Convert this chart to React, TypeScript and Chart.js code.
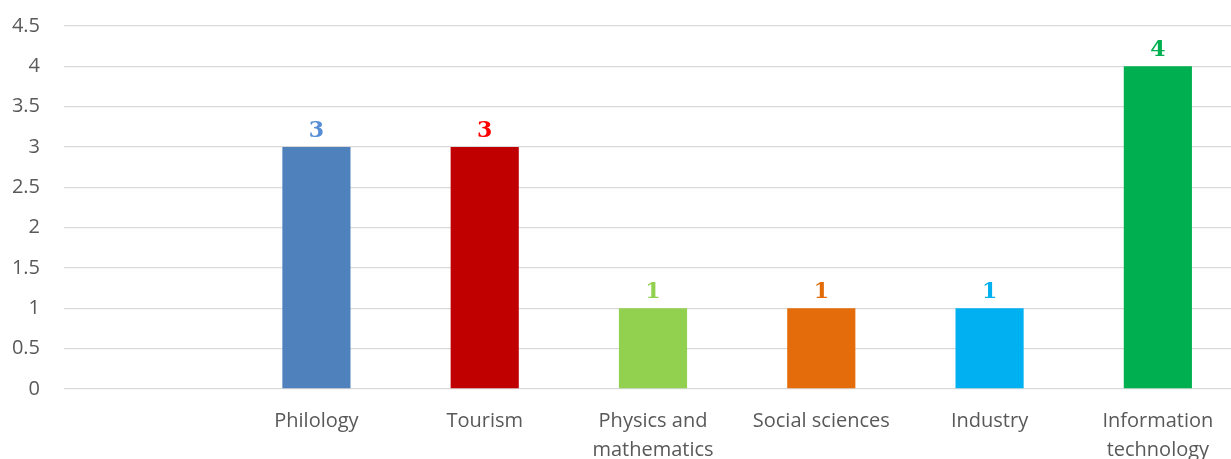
import React, { useEffect, useRef } from "react";
import { Chart, registerables } from "chart.js";

Chart.register(...registerables);

const categories: (string | string[])[] = [
  "",
  "Philology",
  "Tourism",
  ["Physics and", "mathematics"],
  "Social sciences",
  "Industry",
  ["Information", "technology"],
];
const values: (number | null)[] = [null, 3, 3, 1, 1, 1, 4];
const barColors = ["#ffffff", "#4f81bd", "#c00000", "#92d050", "#e46c0a", "#00b0f0", "#00b050"];
const labelColors = ["#ffffff", "#558ed5", "#ff0000", "#92d050", "#e36c09", "#00b0f0", "#00b050"];
const yTicks = { min: 0, max: 4.5, step: 0.5 };

const CANVAS_W = 1242;
const CANVAS_H = 480;
const AREA_LEFT = 64;
const AREA_BOTTOM = 389;

const valueLabels = {
  id: "valueLabels",
  afterDatasetsDraw(chart: any) {
    const ctx = chart.ctx;
    const meta = chart.getDatasetMeta(0);
    ctx.save();
    ctx.font = "bold 22px 'DejaVu Serif', serif";
    ctx.textAlign = "center";
    ctx.textBaseline = "alphabetic";
    meta.data.forEach((bar: any, i: number) => {
      const v = values[i];
      if (v == null) return;
      ctx.fillStyle = labelColors[i];
      ctx.fillText(String(v), bar.x, bar.y - 10);
    });
    ctx.restore();
  },
};

export default function App() {
  const ref = useRef<HTMLCanvasElement | null>(null);
  useEffect(() => {
    if (!ref.current) return;
    const chart = new Chart(ref.current, {
      type: "bar",
      data: {
        labels: categories,
        datasets: [
          {
            data: values,
            backgroundColor: barColors,
            borderWidth: 0,
            categoryPercentage: 0.405,
            barPercentage: 1,
          },
        ],
      },
      options: {
        responsive: false,
        animation: false,
        layout: { padding: { top: 26, right: 0, left: 0, bottom: 0 } },
        plugins: { legend: { display: false }, tooltip: { enabled: false } },
        scales: {
          x: {
            grid: { display: false },
            border: { display: false },
            ticks: {
              color: "#595959",
              font: { family: "'Open Sans', sans-serif", size: 20, lineHeight: 1.45 },
              padding: 10,
              maxRotation: 0,
              autoSkip: false,
            },
            afterFit: (scale: any) => {
              scale.height = CANVAS_H - AREA_BOTTOM;
              scale.paddingLeft = 0;
              scale.paddingRight = 0;
            },
          },
          y: {
            min: yTicks.min,
            max: yTicks.max,
            grid: { color: "#d9d9d9", lineWidth: 1.3, drawTicks: false },
            border: { display: false },
            ticks: {
              stepSize: yTicks.step,
              color: "#595959",
              font: { family: "'Open Sans', sans-serif", size: 20 },
              padding: 24,
              callback: (v: any) => String(Number(v)),
            },
            afterFit: (scale: any) => {
              scale.width = AREA_LEFT;
              scale.paddingTop = 0;
              scale.paddingBottom = 0;
            },
          },
        },
      },
      plugins: [valueLabels],
    });
    return () => chart.destroy();
  }, []);
  return (
    <div
      style={{
        position: "fixed",
        left: 0,
        top: 0,
        width: 1231,
        height: 459,
        overflow: "hidden",
        background: "#ffffff",
      }}
    >
      <canvas ref={ref} width={CANVAS_W} height={CANVAS_H} style={{ display: "block" }} />
    </div>
  );
}
